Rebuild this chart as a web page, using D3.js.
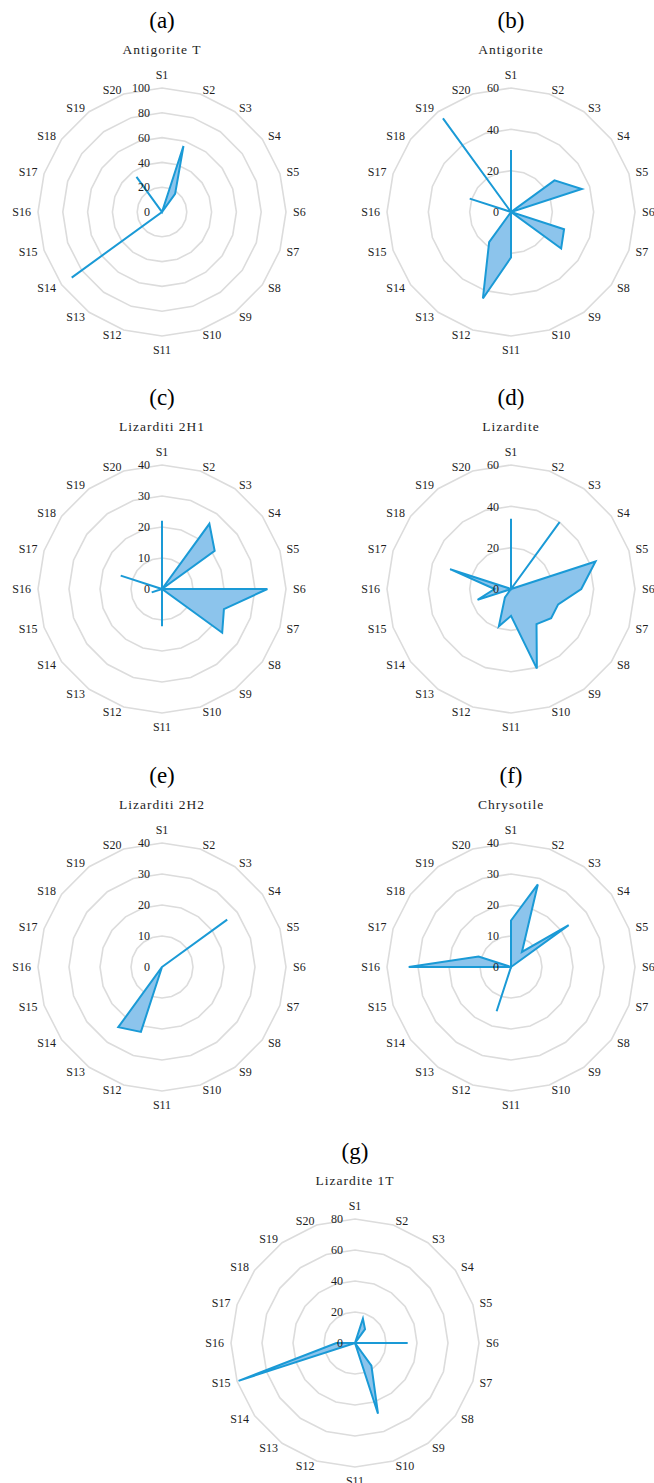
<!DOCTYPE html>
<html>
<head>
<meta charset="utf-8">
<script src="https://cdn.jsdelivr.net/npm/d3@7"></script>
<style>
  html, body { margin: 0; padding: 0; background: #fff; }
  svg { display: block; }
  text { font-family: "Liberation Serif", "Times New Roman", "DejaVu Serif", serif; }
</style>
</head>
<body>
<svg id="chart" width="654" height="1483"></svg>
<script>
// ---------- data ----------
const categories = ["S1","S2","S3","S4","S5","S6","S7","S8","S9","S10",
                    "S11","S12","S13","S14","S15","S16","S17","S18","S19","S20"];

const panelLetters = ["(a)","(b)","(c)","(d)","(e)","(f)","(g)"];
const panelTitles  = ["Antigorite T","Antigorite","Lizarditi 2H1","Lizardite",
                      "Lizarditi 2H2","Chrysotile","Lizardite 1T"];

const antigoriteT  = [0,56,18,0,0,0,0,0,0,0,0,0,0,90,0,0,0,0,35,0];
const antigorite   = [30,0,0,26,36,0,27,30,0,0,22,44,18,0,0,0,21,0,56,0];
const lizarditi2H1 = [22,0,26,21,0,34,21,24,0,0,12,0,0,0,3.5,0,14,0,0,0];
const lizardite    = [34,0,40,0,43,34,24,24,21,40.5,13,19,5,0,17,8,31,0,0,0];
const lizarditi2H2 = [0,0,0,26,0,0,0,0,0,0,0,22,24,0,0,0,0,0,0,0];
const chrysotile   = [15,28,6,23,0,0,0,0,0,0,0,15,0,0,0,33,11,0,0,0];
const lizardite1T  = [0,16.5,11,0,0,34,0,0,18,48,0,0,0,0,79,12,0,0,0,0];

const ticksA = [0,20,40,60,80,100];
const ticksB = [0,20,40,60];
const ticksC = [0,10,20,30,40];
const ticksD = [0,20,40,60];
const ticksE = [0,10,20,30,40];
const ticksF = [0,10,20,30,40];
const ticksG = [0,20,40,60,80];

const seriesList = [antigoriteT, antigorite, lizarditi2H1, lizardite, lizarditi2H2, chrysotile, lizardite1T];
const tickList   = [ticksA, ticksB, ticksC, ticksD, ticksE, ticksF, ticksG];

// ---------- layout ----------
const centers = [[162,212],[511,212],[162,589],[511,589],[162,967],[511,967],[355,1343]];
const R = 124;
const strokeColor = "#1a9ad6";
const fillColor = "#8cc4ec";
const gridColor = "#dcdcdc";
const textColor = "#1e1e1e";

const svg = d3.select("#chart");

const angle = d3.scaleLinear().domain([0, categories.length]).range([0, 2 * Math.PI]);

seriesList.forEach((values, p) => {
  const [cx, cy] = centers[p];
  const ticks = tickList[p];
  const maxV = d3.max(ticks);
  const r = d3.scaleLinear().domain([0, maxV]).range([0, R]);
  const g = svg.append("g").attr("transform", `translate(${cx},${cy})`);

  // panel letter & title
  g.append("text")
    .attr("x", 0).attr("y", -184)
    .attr("text-anchor", "middle")
    .attr("font-size", 23).attr("fill", "#000")
    .text(panelLetters[p]);
  g.append("text")
    .attr("x", 0).attr("y", -158)
    .attr("text-anchor", "middle")
    .attr("font-size", 13.5).attr("fill", textColor)
    .attr("letter-spacing", 1)
    .text(panelTitles[p]);

  // grid rings
  const ringLine = d3.lineRadial()
    .angle((d, i) => angle(i))
    .radius(d => r(d))
    .curve(d3.curveLinearClosed);
  ticks.filter(t => t > 0).forEach(t => {
    g.append("path")
      .attr("d", ringLine(categories.map(() => t)))
      .attr("fill", "none")
      .attr("stroke", gridColor)
      .attr("stroke-width", 1.6);
  });

  // data polygon
  const dataLine = d3.lineRadial()
    .angle((d, i) => angle(i))
    .radius(d => r(d))
    .curve(d3.curveLinearClosed);
  g.append("path")
    .attr("d", dataLine(values))
    .attr("fill", fillColor)
    .attr("stroke", strokeColor)
    .attr("stroke-width", 2)
    .attr("stroke-linejoin", "miter")
    .attr("stroke-miterlimit", 4);

  // tick labels
  ticks.forEach(t => {
    g.append("text")
      .attr("x", -12)
      .attr("y", -r(t))
      .attr("dy", "0.35em")
      .attr("text-anchor", "end")
      .attr("font-size", 12).attr("fill", textColor)
      .text(t);
  });

  // category labels
  categories.forEach((c, i) => {
    const th = angle(i);
    const s = Math.sin(th), co = Math.cos(th);
    let x, y, anchor;
    if (Math.abs(s) < 0.01) {
      x = 0; y = -co * 137.5; anchor = "middle";
    } else {
      x = 131 * s;
      y = -co * 129;
      anchor = s > 0 ? "start" : "end";
    }
    g.append("text")
      .attr("x", x).attr("y", y)
      .attr("dy", "0.35em")
      .attr("text-anchor", anchor)
      .attr("font-size", 12).attr("fill", textColor)
      .text(c);
  });
});
</script>
</body>
</html>
